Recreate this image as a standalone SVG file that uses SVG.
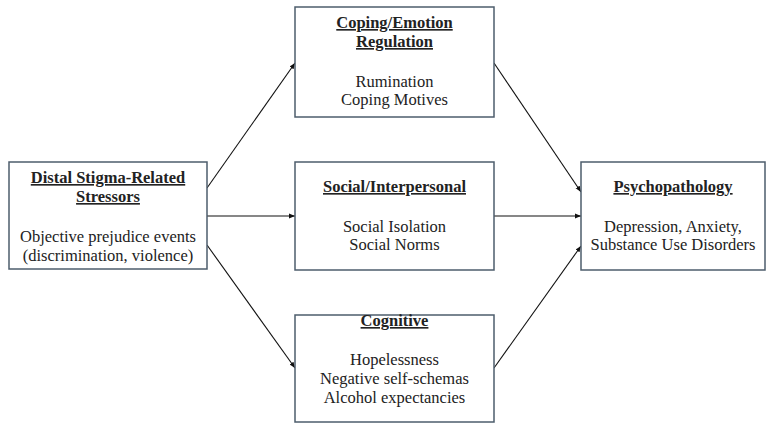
<svg xmlns="http://www.w3.org/2000/svg" width="768" height="424" viewBox="0 0 768 424">
<style>
.box{fill:#fff;stroke:#4d5d6c;stroke-width:1.5}
text{font-family:"Liberation Serif","Times New Roman",serif;font-size:16.5px;fill:#222;text-anchor:middle}
.t{font-weight:bold;text-decoration:underline}
.c line{stroke:#111;stroke-width:1.1;marker-end:url(#ah)}
</style>
<defs>
<marker id="ah" viewBox="0 0 10 10" refX="10" refY="5" markerWidth="6" markerHeight="6" orient="auto" markerUnits="userSpaceOnUse">
<path d="M0,1 L10,5 L0,9 z" fill="#111"/>
</marker>
</defs>
<rect width="768" height="424" fill="#fff"/>
<g class="c" id="connectors">
<line x1="207" y1="188" x2="295" y2="63"/>
<line x1="207" y1="216" x2="295" y2="216"/>
<line x1="207" y1="245" x2="295" y2="368"/>
<line x1="494" y1="63" x2="581" y2="192"/>
<line x1="494" y1="216" x2="581" y2="216"/>
<line x1="494" y1="368" x2="581" y2="246"/>
</g>
<g id="distal">
<rect class="box" x="9" y="162" width="198" height="107"/>
<text x="108" y="183" class="t">Distal Stigma-Related</text>
<text x="108" y="202" class="t">Stressors</text>
<text x="108" y="242">Objective prejudice events</text>
<text x="108" y="261">(discrimination, violence)</text>
</g>
<g id="coping">
<rect class="box" x="295" y="7" width="199" height="110"/>
<text x="394.5" y="28" class="t">Coping/Emotion</text>
<text x="394.5" y="47" class="t">Regulation</text>
<text x="394.5" y="87">Rumination</text>
<text x="394.5" y="105">Coping Motives</text>
</g>
<g id="social">
<rect class="box" x="295" y="162" width="199" height="108"/>
<text x="394.5" y="192" class="t">Social/Interpersonal</text>
<text x="394.5" y="232">Social Isolation</text>
<text x="394.5" y="250">Social Norms</text>
</g>
<g id="cognitive">
<rect class="box" x="295" y="315" width="199" height="107"/>
<text x="394.5" y="326" class="t">Cognitive</text>
<text x="394.5" y="365">Hopelessness</text>
<text x="394.5" y="384">Negative self-schemas</text>
<text x="394.5" y="403">Alcohol expectancies</text>
</g>
<g id="psycho">
<rect class="box" x="581" y="162" width="184" height="108"/>
<text x="673" y="192" class="t">Psychopathology</text>
<text x="673" y="232">Depression, Anxiety,</text>
<text x="673" y="250">Substance Use Disorders</text>
</g>
</svg>
